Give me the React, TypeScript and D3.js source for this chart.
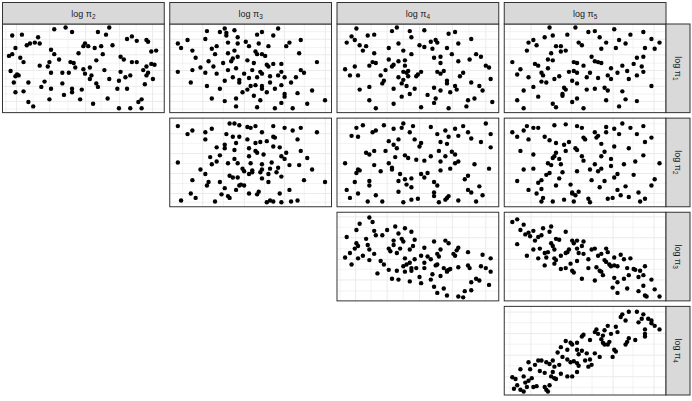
import * as d3 from "d3";

// facet labels (subscripts of log π)
const colVars = ["2", "3", "4", "5"];
const rowVars = ["1", "2", "3", "4"];

// scatter values per panel, [x, y] (0-100 panel units)
const pi1_pi2 = [[32,94],[39,96],[43,91],[66,96],[59,91],[64,88],[6,87],[12,88],[22,85],[77,83],[80,86],[83,81],[89,82],[90,80],[15,76],[17,78],[20,79],[23,78],[51,78],[50,75],[53,75],[57,73],[61,75],[68,76],[8,73],[30,71],[32,66],[47,67],[62,66],[92,69],[95,70],[4,64],[6,66],[11,62],[35,60],[73,63],[75,60],[80,57],[83,57],[13,57],[29,57],[42,57],[44,56],[58,59],[89,52],[92,55],[94,54],[23,53],[28,52],[45,51],[50,49],[54,51],[87,48],[5,47],[30,45],[37,45],[41,45],[63,48],[73,46],[90,45],[9,43],[8,41],[10,42],[51,44],[55,42],[76,40],[79,42],[89,42],[7,34],[16,34],[26,35],[37,33],[54,38],[66,38],[72,36],[93,38],[24,29],[30,27],[43,27],[49,26],[58,33],[59,29],[71,27],[77,27],[88,32],[8,23],[13,24],[43,23],[38,20],[29,15],[48,15],[65,16],[86,15],[84,12],[16,12],[19,7],[56,10],[72,5],[79,5],[86,5]];

const pi1_pi3 = [[34,95],[23,92],[31,91],[35,90],[35,87],[40,93],[67,95],[57,91],[54,88],[64,87],[5,78],[11,82],[7,73],[22,83],[29,75],[26,72],[36,79],[42,85],[42,78],[47,80],[49,75],[55,78],[61,75],[74,79],[72,75],[81,82],[14,70],[28,66],[40,70],[36,67],[53,69],[54,66],[57,66],[59,64],[80,67],[16,62],[24,58],[33,56],[38,58],[39,61],[42,63],[48,59],[52,56],[60,54],[64,55],[69,55],[91,57],[19,51],[14,48],[5,46],[22,45],[27,52],[29,44],[41,50],[36,48],[46,44],[51,48],[56,46],[61,52],[69,46],[81,48],[83,45],[13,34],[34,36],[39,40],[43,37],[49,39],[54,40],[57,44],[62,41],[67,42],[71,40],[78,40],[23,30],[31,27],[43,34],[50,30],[53,31],[57,30],[62,34],[65,27],[69,31],[75,34],[48,26],[45,23],[52,19],[57,27],[60,23],[71,21],[79,22],[88,25],[26,16],[34,13],[41,16],[56,14],[71,18],[85,10],[96,14],[41,7],[54,6],[65,5],[69,11],[76,5]];

const pi1_pi4 = [[12,95],[37,96],[34,92],[45,92],[54,93],[69,89],[73,91],[6,79],[9,86],[11,82],[14,76],[16,70],[18,75],[19,87],[23,88],[46,85],[83,83],[32,73],[38,78],[41,70],[51,76],[54,74],[58,80],[59,72],[61,82],[62,79],[68,73],[75,78],[23,67],[46,66],[60,62],[64,63],[71,66],[86,66],[89,63],[11,52],[5,49],[20,53],[22,57],[24,56],[32,60],[34,52],[35,54],[38,58],[42,59],[42,53],[64,56],[75,58],[82,60],[92,53],[94,51],[8,42],[13,42],[27,42],[30,48],[41,46],[43,45],[44,47],[50,43],[52,46],[62,46],[64,44],[66,47],[76,41],[78,45],[29,36],[28,33],[38,40],[41,37],[44,41],[49,41],[68,36],[68,33],[95,38],[14,26],[20,29],[35,27],[40,33],[43,30],[48,27],[60,28],[64,25],[70,23],[73,30],[74,26],[83,34],[88,30],[90,25],[20,14],[35,10],[40,18],[45,21],[56,20],[60,11],[61,16],[81,14],[85,16],[96,12],[24,5],[52,6],[69,5],[80,7]];

const pi1_pi5 = [[28,96],[44,96],[52,91],[56,92],[68,94],[78,88],[86,91],[25,85],[30,87],[39,88],[15,79],[18,82],[20,76],[32,75],[35,75],[46,79],[48,76],[59,85],[63,79],[71,82],[75,78],[91,83],[96,79],[14,70],[29,67],[35,69],[38,70],[60,72],[69,73],[87,73],[93,72],[27,60],[30,59],[54,63],[56,58],[58,57],[60,56],[82,62],[86,63],[5,57],[19,55],[21,53],[27,50],[43,57],[45,56],[49,53],[73,53],[66,50],[80,55],[85,52],[10,49],[8,43],[23,45],[24,42],[40,46],[43,47],[45,45],[53,45],[70,45],[76,47],[86,46],[15,40],[31,38],[34,41],[42,36],[51,40],[58,39],[64,42],[66,38],[77,38],[82,42],[23,35],[26,34],[18,29],[37,28],[38,26],[45,33],[51,26],[56,27],[62,28],[64,25],[91,30],[12,25],[21,18],[36,21],[36,19],[45,16],[73,24],[75,15],[8,14],[63,14],[82,13],[12,5],[30,10],[32,6],[42,12],[49,5],[71,7]];

const pi2_pi3 = [[5,91],[11,82],[14,86],[22,84],[26,88],[22,76],[37,94],[40,94],[43,92],[48,90],[50,89],[53,91],[64,91],[71,89],[76,86],[81,89],[91,84],[35,82],[39,79],[43,79],[57,84],[48,76],[53,72],[56,73],[60,74],[64,79],[65,78],[79,76],[34,70],[41,72],[29,67],[34,66],[40,64],[49,66],[53,63],[54,61],[58,59],[64,68],[68,67],[81,63],[25,56],[31,58],[40,54],[49,57],[69,57],[71,54],[72,61],[85,55],[5,50],[26,48],[29,51],[36,49],[42,49],[50,49],[57,48],[63,50],[74,47],[80,47],[19,42],[45,43],[46,40],[51,41],[51,39],[57,42],[62,43],[67,44],[88,42],[22,37],[37,35],[39,33],[42,33],[49,37],[56,39],[61,37],[66,39],[69,34],[14,30],[24,28],[31,28],[23,24],[57,32],[61,28],[83,30],[96,28],[34,21],[43,24],[44,25],[46,24],[41,19],[55,17],[54,14],[74,19],[13,15],[16,10],[32,14],[36,12],[37,10],[49,15],[68,15],[7,7],[28,6],[60,5],[62,7],[64,6],[69,5],[75,6],[79,7]];

const pi2_pi4 = [[12,89],[16,92],[9,80],[13,79],[22,84],[24,86],[29,92],[35,88],[40,89],[41,94],[47,91],[58,90],[67,86],[62,82],[73,88],[78,91],[81,84],[92,94],[95,82],[45,84],[48,76],[52,72],[51,68],[64,73],[69,79],[68,71],[75,80],[83,77],[89,73],[95,67],[32,74],[38,76],[35,70],[37,66],[18,61],[20,59],[23,63],[30,63],[36,56],[42,58],[44,55],[49,53],[54,52],[58,57],[63,63],[67,57],[71,62],[73,59],[5,49],[13,42],[12,38],[14,41],[23,47],[32,49],[27,40],[34,42],[34,44],[64,51],[73,49],[75,51],[85,48],[94,43],[39,37],[38,29],[42,31],[46,32],[43,25],[46,22],[52,37],[56,38],[54,33],[60,28],[64,41],[70,43],[79,31],[81,35],[11,28],[20,29],[20,24],[62,24],[81,19],[83,16],[88,23],[6,19],[13,15],[24,13],[38,17],[60,16],[60,12],[68,10],[69,12],[90,13],[8,10],[19,6],[28,6],[41,5],[46,8],[50,9],[63,5],[67,8],[75,7],[86,6]];

const pi2_pi5 = [[5,84],[8,79],[12,86],[14,91],[18,89],[21,89],[31,92],[38,93],[45,91],[48,89],[56,84],[58,80],[57,78],[63,90],[63,84],[68,88],[71,82],[73,94],[78,89],[82,82],[86,91],[15,76],[25,79],[28,75],[32,72],[37,70],[40,73],[49,78],[50,76],[60,71],[68,68],[77,66],[87,73],[91,78],[10,63],[18,59],[32,61],[31,57],[30,55],[38,63],[44,66],[45,64],[48,57],[49,52],[60,57],[62,62],[66,54],[86,58],[27,49],[29,47],[34,54],[35,48],[56,48],[60,43],[66,46],[74,48],[81,51],[96,49],[12,42],[18,43],[26,36],[28,38],[36,39],[34,32],[45,40],[53,42],[58,40],[70,37],[80,36],[8,29],[21,27],[23,30],[32,24],[41,25],[54,30],[62,29],[68,33],[93,31],[15,19],[23,20],[42,16],[46,17],[59,22],[70,19],[75,23],[91,24],[20,15],[24,10],[23,6],[30,6],[37,8],[44,13],[42,15],[43,6],[52,9],[53,5],[64,9],[67,10],[72,13],[77,11],[83,16],[84,6],[87,9]];

const pi3_pi4 = [[20,94],[22,89],[14,87],[12,80],[6,72],[23,79],[24,74],[28,74],[31,80],[36,84],[42,82],[46,78],[18,70],[19,63],[20,58],[12,65],[13,62],[11,59],[8,54],[5,49],[13,48],[16,51],[20,46],[23,53],[9,41],[38,76],[35,68],[40,70],[41,67],[35,63],[32,59],[33,56],[39,59],[37,54],[48,69],[47,62],[45,58],[60,67],[67,68],[69,65],[54,60],[64,58],[62,53],[63,50],[75,60],[74,57],[72,53],[73,51],[81,55],[90,52],[95,48],[27,45],[29,41],[42,48],[48,47],[52,51],[56,50],[58,47],[54,43],[41,39],[43,41],[45,43],[46,37],[49,37],[54,37],[61,40],[62,41],[68,33],[69,35],[75,38],[81,40],[82,37],[89,39],[92,37],[95,33],[25,31],[32,35],[37,34],[42,33],[46,34],[66,37],[68,34],[64,28],[70,36],[34,25],[38,24],[45,22],[51,27],[52,20],[58,24],[59,30],[83,21],[86,25],[88,23],[94,18],[60,16],[62,9],[66,14],[68,6],[75,5],[78,4],[79,11],[83,12]];

const pi3_pi5 = [[5,89],[8,92],[12,86],[10,80],[13,75],[15,77],[18,79],[16,73],[21,72],[23,74],[24,82],[29,84],[28,78],[38,78],[8,64],[19,68],[29,65],[32,70],[34,69],[42,68],[45,68],[49,67],[43,65],[48,62],[45,59],[54,58],[56,59],[63,59],[64,55],[14,51],[18,58],[22,59],[25,54],[27,55],[30,62],[31,58],[26,49],[31,48],[32,46],[35,51],[39,55],[38,54],[40,58],[46,54],[49,53],[58,51],[60,53],[21,48],[25,40],[31,42],[38,37],[35,36],[41,42],[42,34],[43,32],[45,45],[52,47],[52,37],[57,38],[59,34],[62,46],[63,44],[65,41],[66,39],[68,49],[68,40],[70,39],[72,52],[74,47],[78,48],[76,37],[80,36],[81,35],[84,34],[87,39],[86,29],[48,25],[56,23],[60,33],[61,29],[68,26],[70,21],[74,25],[77,29],[83,27],[91,24],[67,15],[70,9],[76,14],[83,11],[86,17],[87,6],[88,5],[93,13],[96,5]];

const pi4_pi5 = [[73,91],[77,94],[82,94],[72,88],[75,84],[83,82],[86,91],[85,86],[89,86],[91,84],[91,81],[93,78],[96,74],[87,74],[87,69],[87,66],[69,77],[64,78],[62,73],[70,71],[66,69],[61,67],[60,63],[61,59],[62,57],[56,71],[53,62],[58,69],[49,68],[48,66],[57,74],[38,61],[41,59],[45,59],[42,57],[35,54],[33,48],[39,51],[45,51],[48,50],[51,47],[46,46],[50,39],[53,40],[56,47],[64,57],[65,60],[68,51],[69,49],[77,64],[76,60],[75,57],[81,62],[67,43],[15,37],[19,34],[21,39],[23,39],[26,37],[28,35],[30,39],[31,32],[34,34],[36,43],[39,40],[41,37],[43,38],[45,36],[46,33],[52,32],[54,34],[59,43],[10,29],[16,29],[22,27],[25,25],[30,26],[29,21],[31,19],[32,18],[35,24],[39,21],[42,21],[45,26],[5,20],[7,18],[8,11],[12,21],[13,14],[15,16],[17,19],[14,9],[18,9],[20,10],[25,9],[26,6],[27,4],[28,11],[6,7],[10,6],[12,4]];

// grid breaks (same units) per column / row
const xBreaks = [
  [2, 8.7, 19, 29.2, 40.5, 51.4, 61, 72.3, 82.6, 92.8],
  [8, 20.4, 33.2, 46.1, 58.5, 70.9, 83.2, 96.2],
  [1.9, 11.5, 21, 31, 41, 51, 61.6, 71.3, 81.6, 92],
  [3.5, 16.5, 29, 41.5, 54.3, 67.3, 79.6, 92.6],
];
const yBreaks = [
  [4, 12.7, 21, 29.6, 38.2, 47.6, 55.8, 65.2, 73.4, 82.8, 91.4],
  [5, 15, 26.2, 37.5, 48.7, 60, 71.2, 82.4, 93.6],
  [11.2, 23.6, 35.6, 46.8, 58.8, 71.2, 83.1, 94.8],
  [8.6, 20.6, 33, 44.9, 57.3, 69.3, 81.6, 93.6],
];

const panels = [
  { row: "1", col: "2", data: pi1_pi2 },
  { row: "1", col: "3", data: pi1_pi3 },
  { row: "1", col: "4", data: pi1_pi4 },
  { row: "1", col: "5", data: pi1_pi5 },
  { row: "2", col: "3", data: pi2_pi3 },
  { row: "2", col: "4", data: pi2_pi4 },
  { row: "2", col: "5", data: pi2_pi5 },
  { row: "3", col: "4", data: pi3_pi4 },
  { row: "3", col: "5", data: pi3_pi5 },
  { row: "4", col: "5", data: pi4_pi5 },
];

const W = 692, H = 401;
const left = 2.5, right = 666, top = 24, bottom = 395, gap = 5.5;
const stripTop = 2.5, stripW = 24;
const border = "#333333";

export default function App() {
  const colBand = d3.scaleBand().domain(colVars).range([left, right])
    .paddingInner(gap / ((right - left + gap) / 4));
  const rowBand = d3.scaleBand().domain(rowVars).range([top, bottom])
    .paddingInner(gap / ((bottom - top + gap) / 4));
  const bw = colBand.bandwidth(), bh = rowBand.bandwidth();

  const label = (sub: string, fs: number) => (
    <>
      log π<tspan fontSize={fs * 0.72} dy={2}>{sub}</tspan>
    </>
  );

  return (
    <svg width={W} height={H} style={{ position: "absolute", left: 0, top: 0 }}
      fontFamily="'Liberation Sans', Arial, sans-serif">
      <rect width={W} height={H} fill="#fff" />
      {panels.map((p, i) => {
        const x0 = colBand(p.col)!, y0 = rowBand(p.row)!;
        const x = d3.scaleLinear().domain([0, 100]).range([x0, x0 + bw]);
        const y = d3.scaleLinear().domain([0, 100]).range([y0 + bh, y0]);
        const ci = colVars.indexOf(p.col), ri = rowVars.indexOf(p.row);
        return (
          <g key={i}>
            <rect x={x0} y={y0} width={bw} height={bh} fill="#fff" />
            {xBreaks[ci].map((v, k) => (
              <line key={"x" + k} x1={x(v)} x2={x(v)} y1={y0} y2={y0 + bh}
                stroke="#EBEBEB" strokeWidth={k % 2 ? 1 : 0.6} />
            ))}
            {yBreaks[ri].map((v, k) => (
              <line key={"y" + k} x1={x0} x2={x0 + bw} y1={y(v)} y2={y(v)}
                stroke="#EBEBEB" strokeWidth={k % 2 ? 1 : 0.6} />
            ))}
            {p.data.map((d, k) => (
              <circle key={k} cx={x(d[0])} cy={y(d[1])} r={2.2} fill="#000" />
            ))}
            <rect x={x0} y={y0} width={bw} height={bh} fill="none" stroke={border} strokeWidth={1} />
          </g>
        );
      })}
      {colVars.map((c) => {
        const x0 = colBand(c)!;
        return (
          <g key={"s" + c}>
            <rect x={x0} y={stripTop} width={bw} height={top - stripTop}
              fill="#D9D9D9" stroke={border} strokeWidth={1} />
            <text x={x0 + bw / 2} y={16.5} textAnchor="middle" fontSize={9} fill="#1A1A1A">
              {label(c, 9)}
            </text>
          </g>
        );
      })}
      {rowVars.map((r) => {
        const y0 = rowBand(r)!;
        const cx = right + stripW / 2;
        return (
          <g key={"r" + r}>
            <rect x={right} y={y0} width={stripW} height={bh}
              fill="#D9D9D9" stroke={border} strokeWidth={1} />
            <text transform={`translate(${cx - 3},${y0 + bh / 2}) rotate(90)`}
              textAnchor="middle" fontSize={9} fill="#1A1A1A">
              {label(r, 9)}
            </text>
          </g>
        );
      })}
    </svg>
  );
}
